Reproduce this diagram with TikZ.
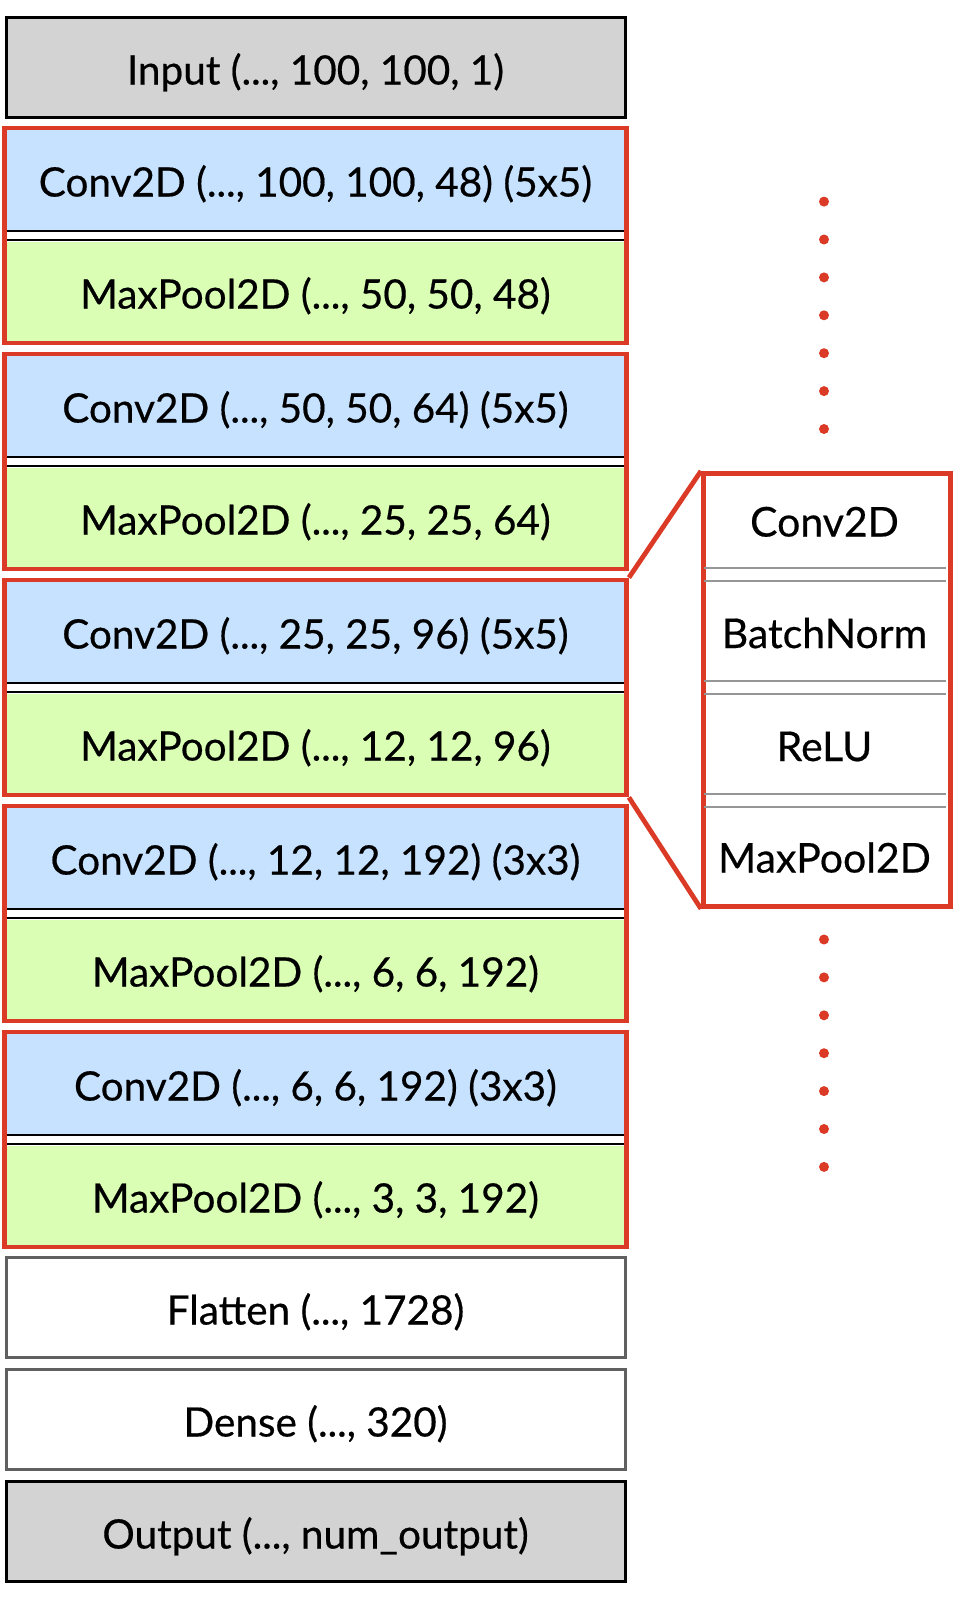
\documentclass[tikz,border=0pt]{standalone}
\usepackage{fontspec}
\setmainfont{Lato}
\newfontfamily\labelfont{Lato}[FakeBold=0.45]
\usetikzlibrary{fit}
\definecolor{convblue}{RGB}{199,226,255}
\definecolor{poolgreen}{RGB}{218,255,180}
\definecolor{redc}{RGB}{218,58,38}
\definecolor{grayfill}{RGB}{211,211,211}
\definecolor{grayborder}{RGB}{96,96,96}
\definecolor{sepgray}{RGB}{150,150,150}
\begin{document}
\begin{tikzpicture}[x=1pt,y=-1pt,
  lbl/.style={font=\labelfont\fontsize{40.5}{44}\selectfont, text=black, text height=34pt, text depth=0pt},
  plbl/.style={font=\labelfont\fontsize{41}{44}\selectfont, text=black, text height=34pt, text depth=0pt},
  layerbox/.style={lbl, rectangle, minimum width=619pt, minimum height=100pt, inner sep=0pt, anchor=north, line width=3pt},
  convbox/.style={layerbox, fill=convblue},
  poolbox/.style={layerbox, fill=poolgreen},
  redbox/.style={draw=redc, line width=4.8pt, inner sep=0pt, rectangle},
  blackline/.style={draw=black, line width=2.5pt},
  grayline/.style={draw=sepgray, line width=2.8pt},
  redline/.style={draw=redc, line width=4.8pt},
  reddot/.style={fill=redc}]
\useasboundingbox (0,0) rectangle (962,1604);

\node[layerbox, fill=grayfill, draw=black] (input) at (315.5,16) {Input (..., 100, 100, 1)};

\foreach \k/\c/\p in {1/{Conv2D (..., 100, 100, 48) (5x5)}/{MaxPool2D (..., 50, 50, 48)},
                     2/{Conv2D (..., 50, 50, 64) (5x5)}/{MaxPool2D (..., 25, 25, 64)},
                     3/{Conv2D (..., 25, 25, 96) (5x5)}/{MaxPool2D (..., 12, 12, 96)},
                     4/{Conv2D (..., 12, 12, 192) (3x3)}/{MaxPool2D (..., 6, 6, 192)},
                     5/{Conv2D (..., 6, 6, 192) (3x3)}/{MaxPool2D (..., 3, 3, 192)}} {
  \pgfmathsetmacro{\T}{128+226*(\k-1)}
  \node[convbox] (conv\k) at (315.5,\T) {\c};
  \node[poolbox] (pool\k) at (315.5,\T+112) {\p};
  \draw[blackline] (conv\k.south west) -- (conv\k.south east);
  \draw[blackline] (pool\k.north west) -- (pool\k.north east);
  \node[redbox, fit=(conv\k)(pool\k)] (block\k) {};
}

\node[layerbox, fill=white, draw=grayborder] (flatten) at (315.5,1256) {Flatten (..., 1728)};
\node[layerbox, fill=white, draw=grayborder] (dense) at (315.5,1368) {Dense (..., 320)};
\node[layerbox, fill=grayfill, draw=black] (output) at (315.5,1480) {Output (..., num\_output)};

% detail panel
\node[redbox, minimum width=247pt, minimum height=433pt, anchor=north west] (panel) at (701,471) {};
\node[plbl] (pc1) at (824.5,519.5) {Conv2D};
\node[plbl] (pc2) at (824.5,631) {BatchNorm};
\node[plbl] (pc3) at (824.5,744) {ReLU};
\node[plbl] (pc4) at (824.5,855.5) {MaxPool2D};
\foreach \y in {568,581,681,694,794,807} {
  \draw[grayline] (703.5,\y) -- (945.5,\y);
}
\draw[redline] (panel.north west) -- (block3.north east);
\draw[redline] (panel.south west) -- (block3.south east);

% dots
\foreach \i in {0,...,6} {
  \fill[reddot] (824,201.6+37.9*\i) circle (5pt);
  \fill[reddot] (824,939.5+37.9*\i) circle (5pt);
}
\end{tikzpicture}
\end{document}
